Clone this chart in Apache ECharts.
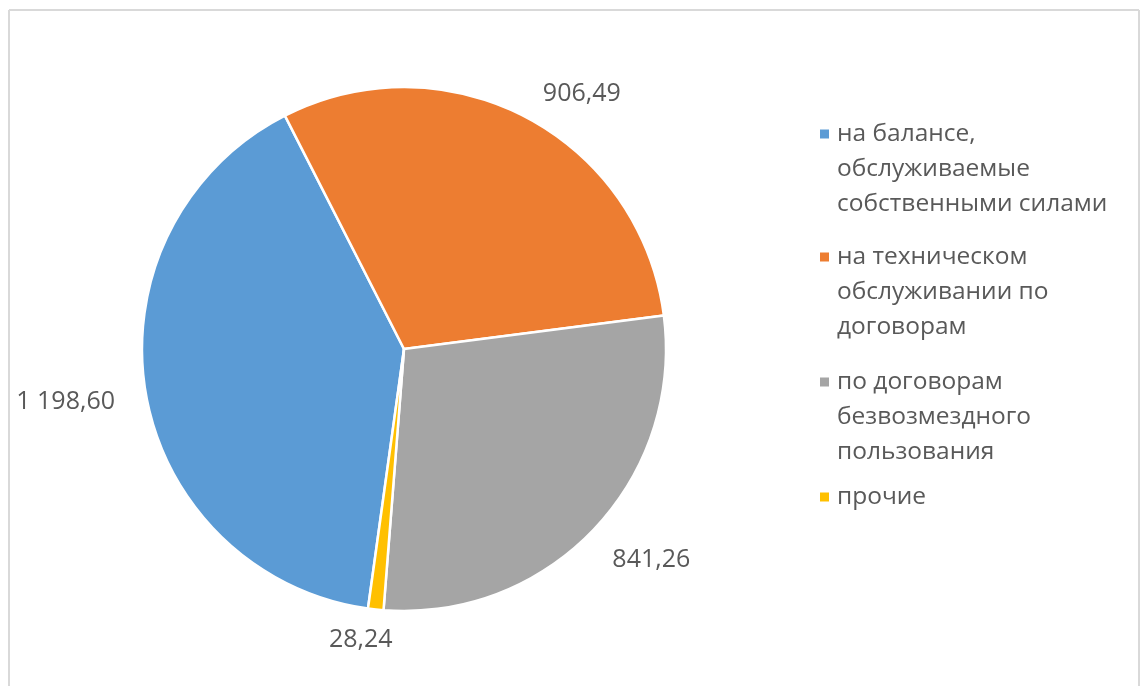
<!DOCTYPE html>
<html>
<head>
<meta charset="utf-8">
<script src="https://cdn.jsdelivr.net/npm/echarts@6/dist/echarts.min.js"></script>
<style>
html,body{margin:0;padding:0;background:#fff;}
#chart{width:1141px;height:686px;}
</style>
</head>
<body>
<div id="chart"></div>
<script>
const categories = [
  'на балансе,\nобслуживаемые\nсобственными силами',
  'на техническом\nобслуживании по\nдоговорам',
  'по договорам\nбезвозмездного\nпользования',
  'прочие'
];
const values = [1198.60, 906.49, 841.26, 28.24];
const colors = ['#5B9BD5', '#ED7D31', '#A5A5A5', '#FFC000'];
const legendCenters = [134, 257, 382, 497];

const FONT = '"Open Sans", sans-serif';
const TEXT = '#595959';
const LH = 35;

function fmt(v) {
  const s = v.toFixed(2);
  let [i, d] = s.split('.');
  i = i.replace(/\B(?=(\d{3})+(?!\d))/g, ' ');
  return i + ',' + d;
}

const legends = categories.map((name, k) => {
  const n = name.split('\n').length;
  return {
    orient: 'vertical',
    left: 818,
    top: legendCenters[k] - (2 * n - 1) * LH / 2,
    padding: 0,
    itemWidth: 11,
    itemHeight: 11,
    icon: 'rect',
    selectedMode: false,
    data: [name],
    formatter: nm => '\n'.repeat(nm.split('\n').length - 1) + nm,
    textStyle: {
      fontFamily: FONT,
      fontSize: 24.5,
      color: TEXT,
      lineHeight: LH,
      padding: [0, 0, 0, 2]
    }
  };
});

const chart = echarts.init(document.getElementById('chart'));
chart.setOption({
  animation: false,
  backgroundColor: '#ffffff',
  color: colors,
  legend: legends,
  graphic: [
    { type: 'line', shape: { x1: 9, y1: 10, x2: 1139, y2: 10 }, style: { stroke: '#d9d9d9', lineWidth: 2 } },
    { type: 'line', shape: { x1: 9, y1: 10, x2: 9, y2: 686 }, style: { stroke: '#d9d9d9', lineWidth: 2 } },
    { type: 'line', shape: { x1: 1139, y1: 10, x2: 1139, y2: 686 }, style: { stroke: '#d9d9d9', lineWidth: 2 } }
  ],
  series: [{
    type: 'pie',
    center: [404, 349],
    radius: 262,
    startAngle: 262.1,
    clockwise: true,
    avoidLabelOverlap: false,
    itemStyle: { borderColor: '#ffffff', borderWidth: 2.5 },
    label: {
      show: true,
      position: 'outside',
      formatter: p => fmt(p.value),
      fontFamily: FONT,
      fontSize: 25,
      color: TEXT,
      distanceToLabelLine: 4
    },
    labelLine: { show: false, length: 27, length2: 0 },
    labelLayout: p => {
      if (p.dataIndex === 3) return { align: 'center', dx: -8, dy: 4 };
      if (p.dataIndex === 2) return { dx: -5, dy: 12 };
      if (p.dataIndex === 0) return { dy: 5 };
      return {};
    },
    emphasis: { disabled: true },
    data: categories.map((c, i) => ({ name: c, value: values[i] }))
  }]
});
</script>
</body>
</html>
